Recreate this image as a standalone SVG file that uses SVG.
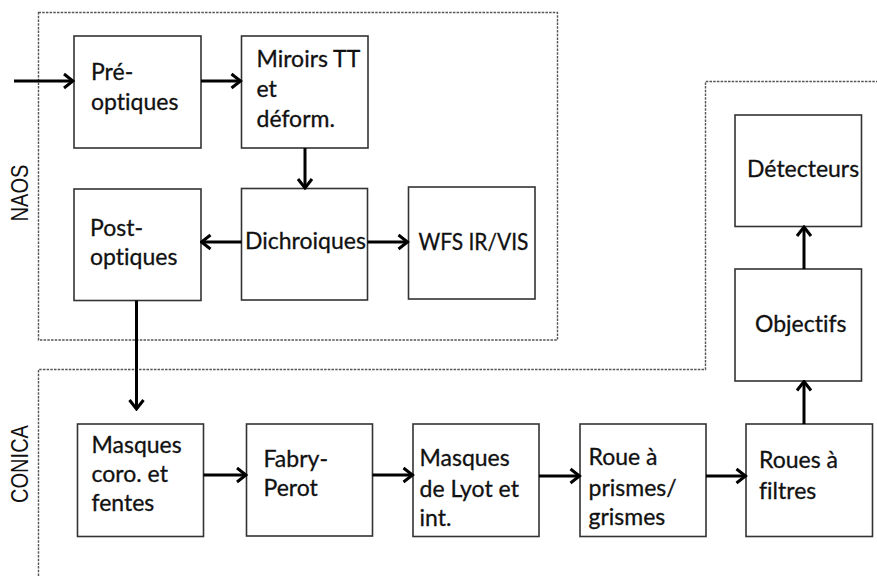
<svg xmlns="http://www.w3.org/2000/svg" width="877" height="576" viewBox="0 0 877 576">
<style>
.bg{fill:#fff}
.box{fill:#fff;stroke:#333;stroke-width:1.6}
.dash{fill:none;stroke:#555;stroke-width:1.4;stroke-dasharray:2.5 1.2}
.lbl{font-family:Lato,"Liberation Sans",sans-serif;font-size:23px;fill:#111;stroke:#111;stroke-width:0.3;font-variant-ligatures:none}
.side{font-family:"Liberation Sans",Arial,sans-serif;font-size:23px;fill:#111}
.conn line{stroke:#000;stroke-width:3;fill:none;marker-end:url(#ah)}
</style>
<defs>
<marker id="ah" markerUnits="userSpaceOnUse" viewBox="0 0 14 18" markerWidth="14" markerHeight="18" refX="12" refY="9" orient="auto">
<path d="M3,2 L12,9 L3,16" fill="none" stroke="#000" stroke-width="3" stroke-linejoin="miter"/>
</marker>
</defs>
<rect class="bg" x="0" y="0" width="877" height="576"/>
<g id="naos-region">
<rect class="dash" x="38.5" y="12.5" width="519" height="327.5"/>
<text class="side" transform="translate(28,193) rotate(-90)" text-anchor="middle" textLength="57" lengthAdjust="spacingAndGlyphs">NAOS</text>
</g>
<g id="conica-region">
<path class="dash" d="M38.5,576 V369.5 H705.5 V81.5 H877"/>
<text class="side" transform="translate(28,464) rotate(-90)" text-anchor="middle" textLength="78" lengthAdjust="spacingAndGlyphs">CONICA</text>
</g>
<g id="pre-optiques">
<rect class="box" x="74" y="36" width="127" height="112"/>
<text class="lbl" x="91" y="80">Pré-</text>
<text class="lbl" x="91" y="110">optiques</text>
</g>
<g id="miroirs">
<rect class="box" x="241.5" y="36" width="126.5" height="112"/>
<text class="lbl" x="256.5" y="67">Miroirs TT</text>
<text class="lbl" x="256.5" y="97">et</text>
<text class="lbl" x="256.5" y="127">déform.</text>
</g>
<g id="post-optiques">
<rect class="box" x="74" y="189" width="127" height="111.5"/>
<text class="lbl" x="90" y="236">Post-</text>
<text class="lbl" x="90" y="265">optiques</text>
</g>
<g id="dichroiques">
<rect class="box" x="241.5" y="188.5" width="126" height="111.5"/>
<text class="lbl" x="245" y="249">Dichroiques</text>
</g>
<g id="wfs">
<rect class="box" x="408.5" y="187" width="126.5" height="112"/>
<text class="lbl" x="418.5" y="250" textLength="110" lengthAdjust="spacingAndGlyphs">WFS IR/VIS</text>
</g>
<g id="detecteurs">
<rect class="box" x="735" y="115" width="126.5" height="111.5"/>
<text class="lbl" x="747" y="177">Détecteurs</text>
</g>
<g id="objectifs">
<rect class="box" x="735" y="269" width="126.5" height="112"/>
<text class="lbl" x="755" y="332">Objectifs</text>
</g>
<g id="masques-coro">
<rect class="box" x="77.5" y="424" width="126" height="112.5"/>
<text class="lbl" x="91.5" y="453">Masques</text>
<text class="lbl" x="91.5" y="482">coro. et</text>
<text class="lbl" x="91.5" y="511">fentes</text>
</g>
<g id="fabry-perot">
<rect class="box" x="246.5" y="424" width="126" height="112"/>
<text class="lbl" x="263.5" y="467">Fabry-</text>
<text class="lbl" x="263.5" y="496">Perot</text>
</g>
<g id="masques-lyot">
<rect class="box" x="413" y="424" width="126" height="112.5"/>
<text class="lbl" x="419.5" y="466">Masques</text>
<text class="lbl" x="419.5" y="496.5">de Lyot et</text>
<text class="lbl" x="419.5" y="526">int.</text>
</g>
<g id="roue-prismes">
<rect class="box" x="580" y="424" width="126" height="112.5"/>
<text class="lbl" x="588.5" y="465">Roue à</text>
<text class="lbl" x="588.5" y="496">prismes/</text>
<text class="lbl" x="588.5" y="525">grismes</text>
</g>
<g id="roues-filtres">
<rect class="box" x="746" y="424" width="126.5" height="112.5"/>
<text class="lbl" x="759" y="468">Roues à</text>
<text class="lbl" x="759" y="499">filtres</text>
</g>
<g id="connectors" class="conn">
<line x1="14" y1="81" x2="73" y2="81"/>
<line x1="201" y1="81" x2="240.5" y2="81"/>
<line x1="305" y1="148" x2="305" y2="188"/>
<line x1="241.5" y1="242" x2="201.5" y2="242"/>
<line x1="367.5" y1="242" x2="407.5" y2="242"/>
<line x1="136.5" y1="300.5" x2="136.5" y2="409"/>
<line x1="203.5" y1="475" x2="246" y2="475"/>
<line x1="372.5" y1="475" x2="412.5" y2="475"/>
<line x1="539" y1="476" x2="579.5" y2="476"/>
<line x1="706" y1="476" x2="745.5" y2="476"/>
<line x1="804" y1="424" x2="804" y2="381.5"/>
<line x1="804" y1="269" x2="804" y2="227"/>
</g>
</svg>
